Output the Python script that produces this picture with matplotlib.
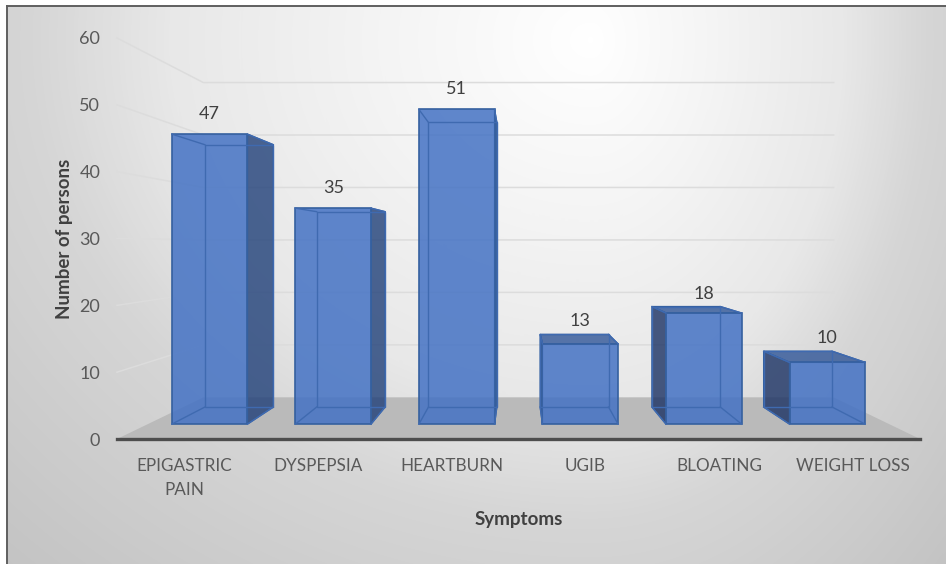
import numpy as np
import matplotlib
matplotlib.use('Agg')
import matplotlib.pyplot as plt
from matplotlib.patches import Polygon
from matplotlib.colors import LinearSegmentedColormap, to_rgba

plt.rcParams['font.family'] = ['Lato', 'DejaVu Sans']

# data
categories = ['EPIGASTRIC\nPAIN', 'DYSPEPSIA', 'HEARTBURN', 'UGIB', 'BLOATING', 'WEIGHT LOSS']
persons = [47, 35, 51, 13, 18, 10]
y_ticks = [0, 10, 20, 30, 40, 50, 60]

W, H = 946, 564

# perspective set-up: everything shrinks towards this point (data coords)
VP_X, VP_Y = 2.5, 29.0
S_BAR_FRONT = 0.923
S_BAR_BACK = 0.835
S_WALL = 0.785
HALF_W = 0.306


def proj(x, y, s):
    return (VP_X + (x - VP_X) * s, VP_Y + (y - VP_Y) * s)


fig = plt.figure(figsize=(W / 100, H / 100), dpi=100, facecolor='white')

# ─── background panel with a soft radial gradient ───
bg = fig.add_axes([7 / W, 0, 1 - 7 / W, 1 - 6 / H], zorder=0)
yy, xx = np.mgrid[6:H, 7:W]
# falls off faster to the right of the bright spot than to the left
x_scale = np.where(xx < 590, 700.0, 420.0)
t = np.sqrt(((xx - 590) / x_scale) ** 2 + ((yy - 40) / 600.0) ** 2)
cmap = LinearSegmentedColormap.from_list(
    'bg', [(0, '#ffffff'), (0.2, '#f4f4f4'), (0.4, '#e8e8e8'), (0.53, '#d6d6d6'),
           (0.8, '#c4c4c4'), (1, '#bcbcbc')])
bg.imshow(t, cmap=cmap, vmin=0, vmax=1.5, aspect='auto', interpolation='bilinear')
bg.set_xticks([])
bg.set_yticks([])
for side in ['right', 'bottom']:
    bg.spines[side].set_visible(False)
for side in ['left', 'top']:
    bg.spines[side].set_color('#5f5f5f')
    bg.spines[side].set_linewidth(1.4)

# ─── main axes: front plane of the 3D box ───
ax = fig.add_axes([117 / W, (H - 439) / H, 803 / W, 401 / H], zorder=1)
ax.patch.set_alpha(0)
ax.set_xlim(-0.5, 5.5)
ax.set_ylim(0, 60)

# floor
floor = [proj(-0.5, 0, 1), proj(5.5, 0, 1), proj(5.5, 0, S_WALL), proj(-0.5, 0, S_WALL)]
ax.add_patch(Polygon(floor, closed=True, fc='#bababa', ec='none', zorder=1, clip_on=False))

# gridlines, left wall then back wall
for v in y_ticks[1:]:
    p0 = proj(-0.5, v, 1)
    p1 = proj(-0.5, v, S_WALL)
    p2 = proj(5.5, v, S_WALL)
    ax.plot([p0[0], p1[0], p2[0]], [p0[1], p1[1], p2[1]], color='#dcdcdc', lw=1.1,
            zorder=2, clip_on=False, solid_joinstyle='miter')

# bars
BLUE = '#4472c4'
EDGE = '#35609f'
INNER = '#3f6ab0'


def quad(pts, fc, alpha=1.0, ec=EDGE, lw=1.0, z=3):
    face = 'none' if fc == 'none' else to_rgba(fc, alpha)
    ax.add_patch(Polygon(pts, closed=True, fc=face, ec=ec, lw=lw, zorder=z, clip_on=False))


for i, val in enumerate(persons):
    xl, xr = i - HALF_W, i + HALF_W
    fbl, fbr = proj(xl, 0, S_BAR_FRONT), proj(xr, 0, S_BAR_FRONT)
    ftl, ftr = proj(xl, val, S_BAR_FRONT), proj(xr, val, S_BAR_FRONT)
    bbl, bbr = proj(xl, 0, S_BAR_BACK), proj(xr, 0, S_BAR_BACK)
    btl, btr = proj(xl, val, S_BAR_BACK), proj(xr, val, S_BAR_BACK)

    # side face that can be seen
    if i < VP_X:
        quad([fbr, bbr, btr, ftr], '#1f3f78', 0.8, z=3)
    else:
        quad([fbl, bbl, btl, ftl], '#1a3163', 0.8, z=3)
    # top face only shows when it is below eye level
    if val < VP_Y:
        quad([ftl, ftr, btr, btl], '#2f5597', 0.8, z=3)
    # front face
    quad([fbl, fbr, ftr, ftl], BLUE, 0.85, lw=1.2, z=4)
    # hidden edges seen through the glass
    quad([bbl, bbr, btr, btl], 'none', ec=INNER, z=5)
    for a, b in [(fbl, bbl), (fbr, bbr), (ftl, btl), (ftr, btr)]:
        ax.plot([a[0], b[0]], [a[1], b[1]], color=INNER, lw=1.0, zorder=5, clip_on=False)

    # value label above whichever top edge sits higher
    top_y = max(ftl[1], btl[1])
    off = 20 if val > VP_Y else 13
    ax.annotate(str(val), (proj(i, val, S_BAR_FRONT)[0], top_y), xytext=(0, off * 0.72),
                textcoords='offset points', ha='center', va='center',
                fontsize=13, color='#404040', zorder=6, annotation_clip=False)

# ─── axes dressing ───
for side in ['top', 'right', 'left']:
    ax.spines[side].set_visible(False)
ax.spines['bottom'].set_color('#4d4d4d')
ax.spines['bottom'].set_linewidth(2.4)
ax.spines['bottom'].set_zorder(7)

ax.set_xticks(range(len(categories)))
ax.set_xticklabels(categories, fontsize=12.3, color='#595959', linespacing=1.55)
ax.set_yticks(y_ticks)
ax.tick_params(axis='both', length=0)
ax.tick_params(axis='x', pad=14)
ax.tick_params(axis='y', labelsize=13, labelcolor='#595959', pad=12)

ax.set_xlabel('Symptoms', fontsize=13.5, fontweight='bold', color='#404040', labelpad=10)
ax.set_ylabel('Number of persons', fontsize=13.5, fontweight='bold', color='#404040', labelpad=4.5)

fig.savefig('out.png', dpi=100)
